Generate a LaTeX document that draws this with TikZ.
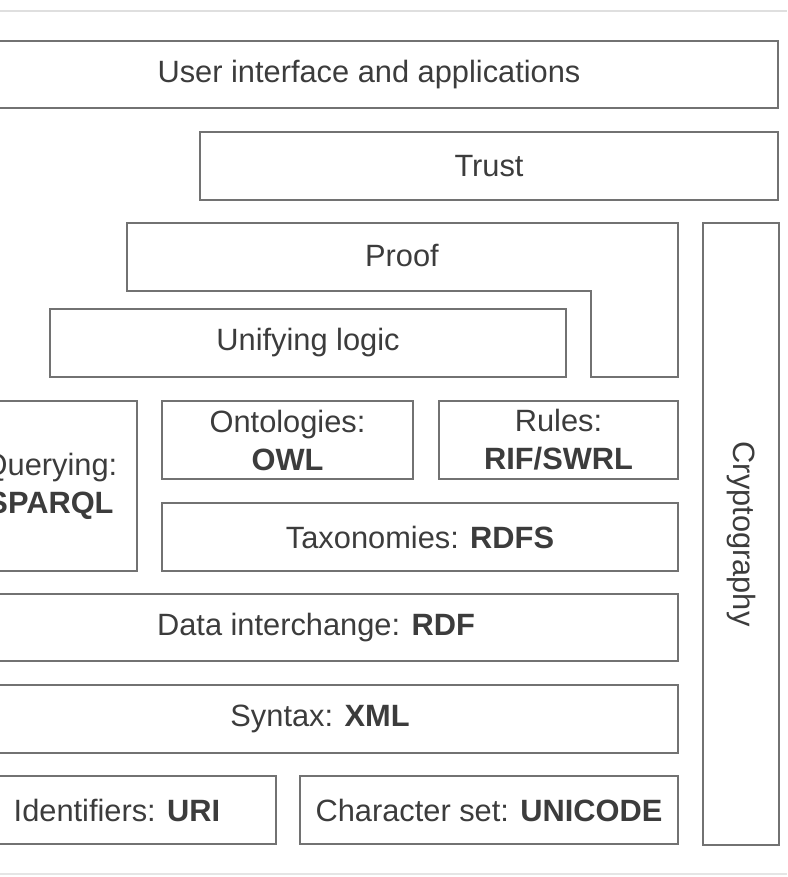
\documentclass[tikz,border=0pt]{standalone}
\usepackage{fontspec}
\setmainfont{Liberation Sans}
\usepackage{tikz}
\usetikzlibrary{positioning}
\definecolor{boxline}{HTML}{727272}
\definecolor{boxtext}{HTML}{3C3C3C}
\tikzset{layer/.style={
	draw=boxline,
	rectangle,
	line width=2pt,
	inner sep=0pt,
	align=center,
	text=boxtext,
	font=\fontsize{30.8}{38}\selectfont,
}}

\begin{document}
\begin{tikzpicture}[x=1pt,y=-1pt]
\useasboundingbox (0,0) rectangle (787,877);
\clip (0,0) rectangle (787,877);

% faint frame lines
\draw[gray!25, line width=1.5pt] (0,11) -- (787,11);
\draw[gray!20, line width=1.5pt] (0,874) -- (787,874);

% name/left/top/right/bottom/text
\foreach \n/\l/\t/\r/\b/\txt in {
	ui/-40/41/778/108/{User interface and applications},
	trust/200/132/778/200/{Trust},
	logic/50/309/566/377/{Unifying logic},
	query/-36/401/137/571/{Querying:\\ \textbf{SPARQL}},
	onto/162/401/413/479/{Ontologies:\\ \textbf{OWL}},
	rules/439/401/678/479/{Rules:\\ \textbf{RIF/SWRL}},
	rdfs/162/503/678/571/{Taxonomies: \textbf{RDFS}},
	rdf/-46/594/678/661/{Data interchange: \textbf{RDF}},
	xml/-38/685/678/753/{Syntax: \textbf{XML}},
	uri/-42/776/276/844/{Identifiers: \textbf{URI}},
	unicode/300/776/678/844/{Character set: \textbf{UNICODE}}%
}{
	\node[layer, minimum width={(\r)-(\l)}, minimum height={(\b)-(\t)}]
	(\n) at ({(\l+\r)/2},{(\t+\b)/2}) {\txt};
}

% proof wraps round unifying logic
\draw[boxline, line width=2pt]
(127,223) -- (678,223) -- (678,377) -- (591,377)
-- (591,291) -- (127,291) -- cycle
;
\node[layer, draw=none] (proof) at (402,256) {Proof};

\node[layer, rotate=-90, minimum width=622, minimum height=76]
(crypto) at (741,534) {Cryptography};

\end{tikzpicture}
\end{document}
